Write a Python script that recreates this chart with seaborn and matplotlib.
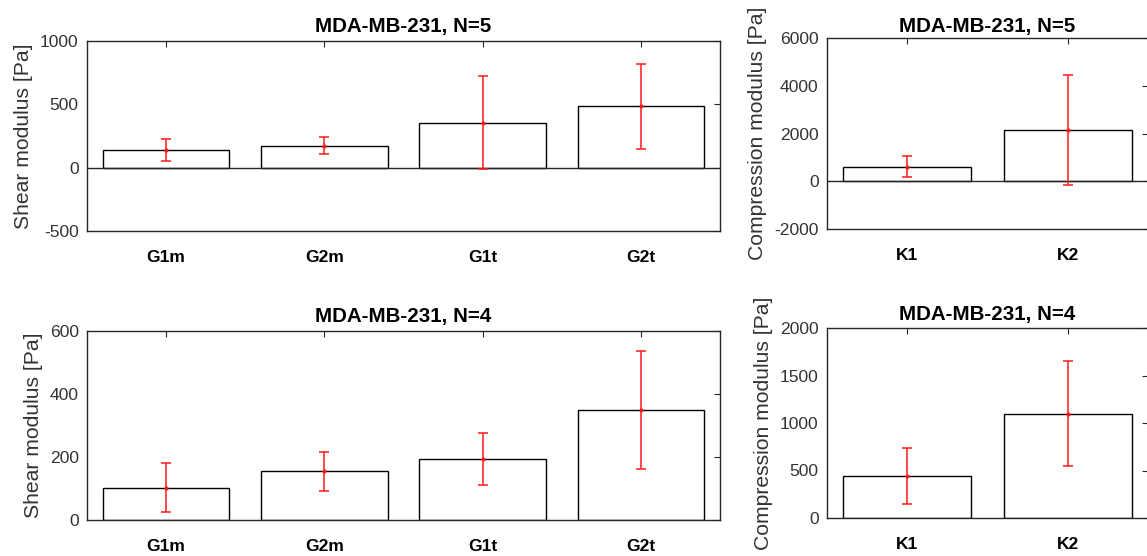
import matplotlib
matplotlib.use("Agg")
import matplotlib.pyplot as plt
import seaborn as sns
import pandas as pd

# ---- data ----
shear_cats = ["G1m", "G2m", "G1t", "G2t"]
comp_cats = ["K1", "K2"]

shear_n5_mean = [137, 174, 355, 484]
shear_n5_err = [88, 67, 367, 333]
comp_n5_mean = [610, 2140]
comp_n5_err = [450, 2300]

shear_n4_mean = [103, 154, 194, 349]
shear_n4_err = [77, 62, 83, 187]
comp_n4_mean = [442, 1100]
comp_n4_err = [291, 555]

title_n5 = "MDA-MB-231, N=5"
title_n4 = "MDA-MB-231, N=4"
shear_label = "Shear modulus [Pa]"
comp_label = "Compression modulus [Pa]"

shear_n5_ticks = [-500, 0, 500, 1000]
comp_n5_ticks = [-2000, 0, 2000, 4000, 6000]
shear_n4_ticks = [0, 200, 400, 600]
comp_n4_ticks = [0, 500, 1000, 1500, 2000]

# ---- style ----
sns.set_theme(style="white")
plt.rcParams["font.family"] = ["Liberation Sans", "DejaVu Sans"]
plt.rcParams["axes.unicode_minus"] = False

AX_COL = "#262626"
TXT_COL = "#333333"

W, H = 1147, 556
fig = plt.figure(figsize=(W / 100, H / 100), dpi=100)


def px_axes(l, r, t, b):
    return fig.add_axes([l / W, 1 - b / H, (r - l) / W, (b - t) / H])


def panel(ax, cats, means, errs, ticks, title, ylabel, zero_line, title_pad):
    df = pd.DataFrame({"cat": cats, "val": means})
    sns.barplot(data=df, x="cat", y="val", color="white", saturation=1,
                edgecolor="black", linewidth=1.0, errorbar=None, width=0.8,
                ax=ax, zorder=2)
    ax.errorbar(range(len(cats)), means, yerr=errs, fmt=".", color="#ff1a1a",
                ecolor="#ff1a1a", elinewidth=1.1, capsize=3.3, capthick=1.1,
                markersize=4, zorder=4)
    ax.set_xlim(-0.5, len(cats) - 0.5)
    ax.set_ylim(ticks[0], ticks[-1])
    ax.set_yticks(ticks)
    ax.set_yticklabels([str(t) for t in ticks])
    if zero_line:
        ax.axhline(0, color=AX_COL, lw=1.0, zorder=3)
    ax.set_xlabel("")
    ax.set_ylabel(ylabel, fontsize=15.2, color=TXT_COL, labelpad=5)
    ax.set_title(title, fontsize=14.8, fontweight="bold", color="black", pad=title_pad)
    for s in ax.spines.values():
        s.set_visible(True)
        s.set_color(AX_COL)
        s.set_linewidth(1.0)
    ax.tick_params(axis="both", which="both", direction="in", top=True, right=True,
                   length=4.5, width=0.8, color=AX_COL)
    ax.tick_params(axis="y", labelsize=12.6, labelcolor=TXT_COL, pad=6)
    ax.tick_params(axis="x", labelsize=12.5, labelcolor="black", pad=14)
    for lbl in ax.get_xticklabels():
        lbl.set_fontweight("bold")
    ax.grid(False)


ax1 = px_axes(87, 720, 41, 231)
panel(ax1, shear_cats, shear_n5_mean, shear_n5_err, shear_n5_ticks, title_n5,
      shear_label, True, 6.5)

ax2 = px_axes(827, 1148, 38, 229)
panel(ax2, comp_cats, comp_n5_mean, comp_n5_err, comp_n5_ticks, title_n5,
      comp_label, True, 4.5)

ax3 = px_axes(87, 720, 331, 520)
panel(ax3, shear_cats, shear_n4_mean, shear_n4_err, shear_n4_ticks, title_n4,
      shear_label, False, 6.5)

ax4 = px_axes(827, 1148, 328, 518)
panel(ax4, comp_cats, comp_n4_mean, comp_n4_err, comp_n4_ticks, title_n4,
      comp_label, False, 6)

fig.savefig("out.png", dpi=100, facecolor="white")
